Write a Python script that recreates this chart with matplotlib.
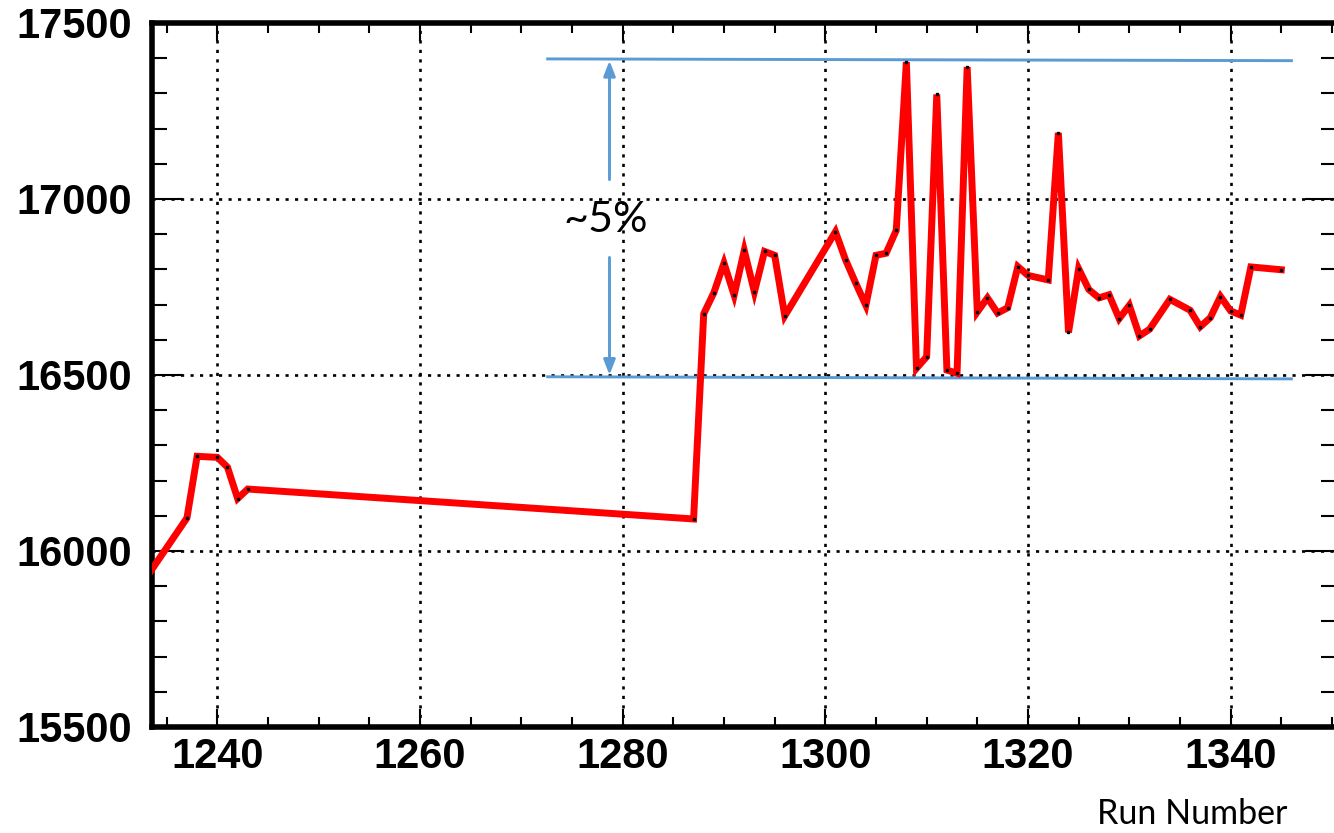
import matplotlib
matplotlib.use("Agg")
import matplotlib.pyplot as plt
from matplotlib.ticker import MultipleLocator

runs = [1233, 1237, 1238, 1240, 1241, 1242, 1243,
        1287, 1288, 1289, 1290, 1291, 1292, 1293, 1294, 1295, 1296,
        1301, 1302, 1303, 1304, 1305, 1306, 1307, 1308, 1309, 1310,
        1311, 1312, 1313, 1314, 1315, 1316, 1317, 1318, 1319, 1320,
        1322, 1323, 1324, 1325, 1326, 1327, 1328, 1329, 1330, 1331, 1332,
        1334, 1336, 1337, 1338, 1339, 1340, 1341, 1342, 1345]
values = [15925, 16094, 16269, 16266, 16238, 16149, 16176,
          16091, 16674, 16734, 16818, 16727, 16854, 16736, 16851, 16840, 16668,
          16907, 16827, 16761, 16698, 16840, 16846, 16911, 17389, 16519, 16552,
          17297, 16514, 16505, 17375, 16679, 16719, 16676, 16691, 16808, 16783,
          16770, 17188, 16621, 16802, 16743, 16719, 16728, 16660, 16698, 16611, 16630,
          16715, 16684, 16637, 16663, 16723, 16682, 16670, 16807, 16799]

# blue band marking the ~5% spread
band_x = [1272.6, 1346.0]
band_top = [17398, 17393]
band_bottom = [16495, 16489]
arrow_x = 1278.7
label_text = "~5%"

blue = "#5B9BD5"

fig = plt.figure(figsize=(13.34, 8.33), dpi=100)
ax = fig.add_axes([151.5 / 1334, 1 - 727 / 833, (1336 - 151.5) / 1334, (727 - 23) / 833])

ax.plot(runs, values, color="red", lw=5, zorder=3, solid_joinstyle="miter")
ax.plot(runs, values, ls="none", marker="s", ms=1.8, color="black", zorder=4)

ax.plot(band_x, band_top, color=blue, lw=2.1, zorder=2)
ax.plot(band_x, band_bottom, color=blue, lw=2.1, zorder=2)

arrow_style = dict(arrowstyle="-|>,head_length=0.9,head_width=0.35", color=blue, lw=2.1,
                   shrinkA=0, shrinkB=0)
ax.annotate("", xy=(arrow_x, band_top[0] - 5), xytext=(arrow_x, 17055), arrowprops=arrow_style)
ax.annotate("", xy=(arrow_x, band_bottom[0] + 5), xytext=(arrow_x, 16834), arrowprops=arrow_style)
ax.text(1278.3, 16940, label_text, fontsize=31, family="Lato", ha="center", va="center")

ax.set_xlim(1233.5, 1350.4)
ax.set_ylim(15500, 17500)

ax.xaxis.set_major_locator(MultipleLocator(20))
ax.xaxis.set_minor_locator(MultipleLocator(5))
ax.yaxis.set_major_locator(MultipleLocator(500))
ax.yaxis.set_minor_locator(MultipleLocator(100))

ax.grid(True, which="major", color="black", ls=(0, (1.2, 2.4)), lw=1.9)

ax.tick_params(axis="both", which="both", direction="in", top=True, right=True, color="black")
ax.tick_params(axis="x", which="major", length=13, width=1.5, pad=7)
ax.tick_params(axis="x", which="minor", length=7, width=1.5)
ax.tick_params(axis="y", which="major", length=22, width=1.5, pad=14)
ax.tick_params(axis="y", which="minor", length=11, width=1.5)

for lab in ax.get_xticklabels() + ax.get_yticklabels():
    lab.set_fontfamily("Liberation Sans")
    lab.set_fontweight("bold")
    lab.set_fontsize(30)

for s in ax.spines.values():
    s.set_linewidth(4)

fig.text(1287 / 1334, 1 - 814 / 833, "Run Number", fontsize=24.5, family="Lato",
         ha="right", va="center")

fig.savefig("out.png", dpi=100)
